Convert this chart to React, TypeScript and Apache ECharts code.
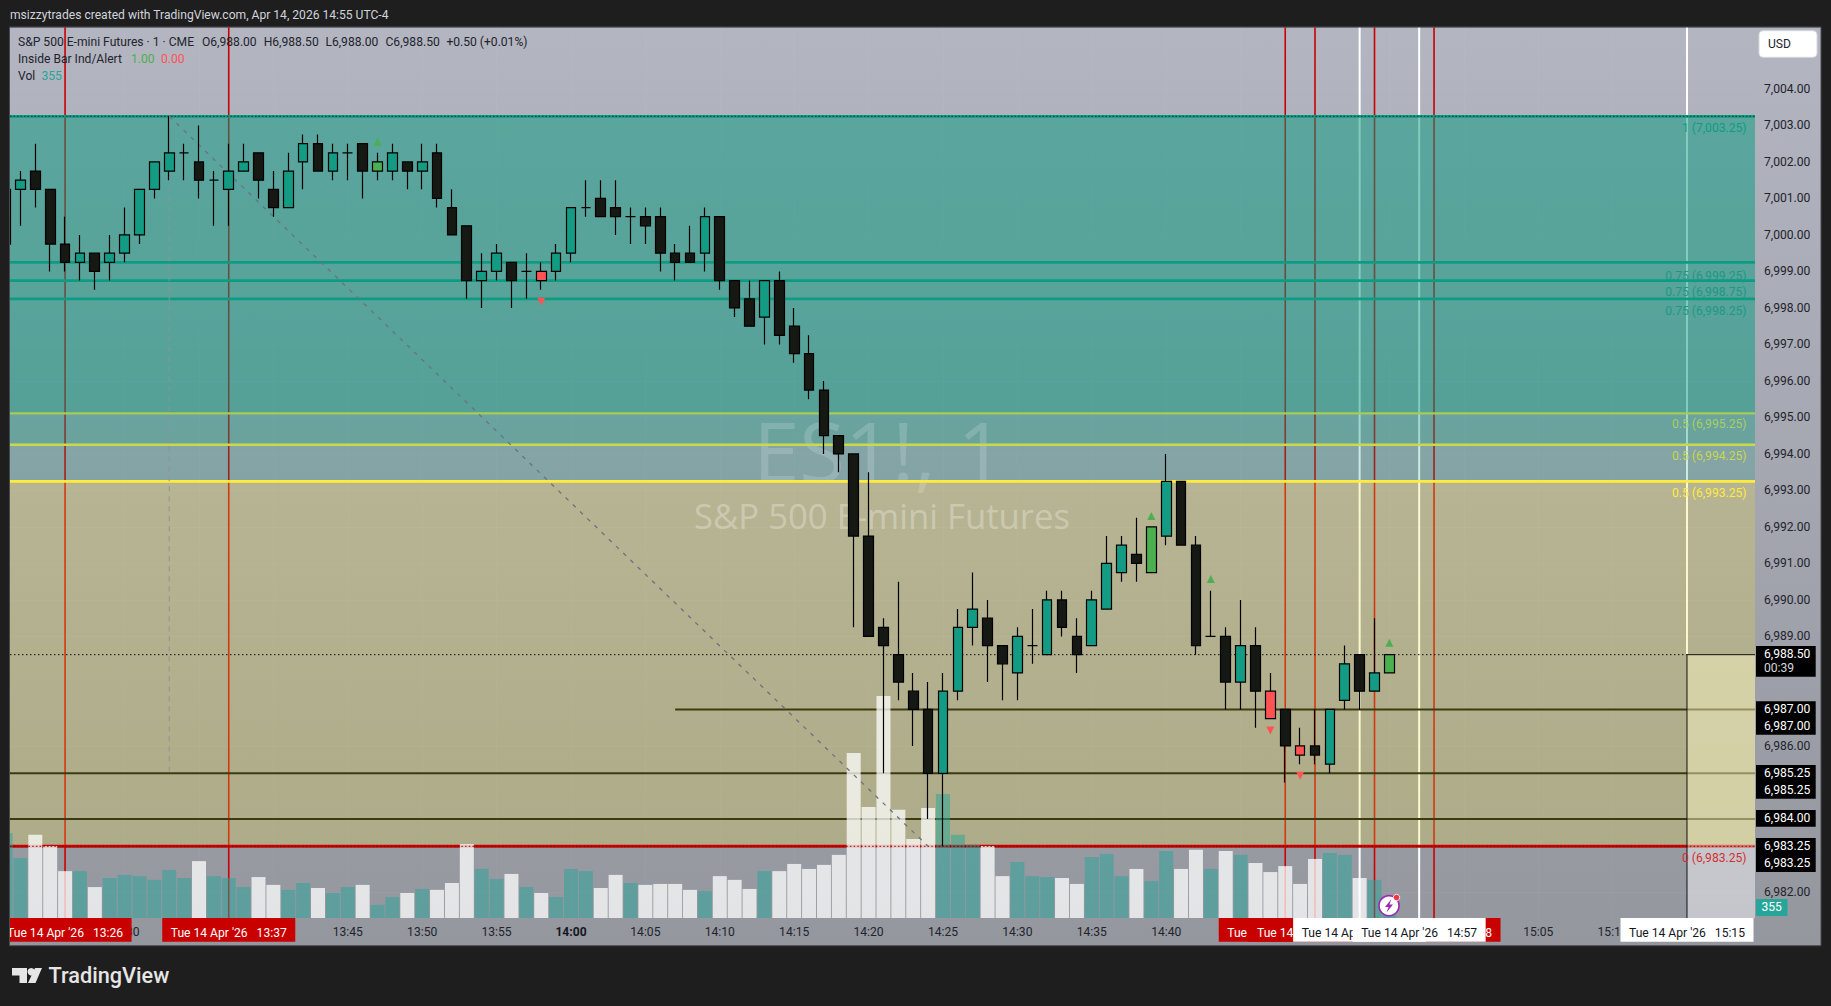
import React, { useEffect, useRef } from "react";
import * as echarts from "echarts";

const firstMinute = 802;
const opens = [6999.75,7001.25,7001.75,7001.25,6999.75,6999.25,6999.5,6999.25,6999.5,7000,7001.25,7001.75,7002.25,7002,7001.5,7001.25,7001.75,7002.25,7001.25,7000.75,7002,7002.5,7001.75,7002.25,7002.5,7001.75,7001.75,7002,7001.75,7002.25,7000.75,7000.25,6998.75,6999,6999.25,6999,6999,6999,6999.5,7000.75,7001,7000.75,7000.5,7000.5,7000.5,6999.5,6999.5,6999.5,7000.5,6998.75,6998.25,6997.75,6998.75,6997.5,6996.75,6995.75,6994.5,6994,6991.75,6989.25,6988.5,6987.5,6987,6985.25,6987.5,6989.25,6989.5,6988.75,6988,6988.75,6988.5,6990,6989,6988.75,6989.75,6990.75,6991.25,6990.75,6991.75,6993.25,6991.5,6989,6989,6987.75,6988.75,6987.5,6987,6986,6986,6985.5,6987.25,6988.5,6987.5,6988];
const closes = [7001.25,7001.5,7001.25,6999.75,6999.25,6999.5,6999,6999.5,7000,7001.25,7002,7002.25,7002.25,7001.5,7001.5,7001.75,7002,7001.5,7000.75,7001.75,7002.5,7001.75,7002.25,7002.25,7001.75,7002,7002.25,7001.75,7002,7001,7000,6998.75,6999,6999.5,6998.75,6999,6998.75,6999.5,7000.75,7000.75,7000.5,7000.5,7000.5,7000.25,6999.5,6999.25,6999.25,7000.5,6998.75,6998,6997.5,6998.75,6997.25,6996.75,6995.75,6994.5,6994,6991.75,6989,6988.75,6987.75,6987,6985.25,6987.5,6989.25,6989.75,6988.75,6988.25,6989,6988.75,6990,6989.25,6988.5,6990,6991,6991.5,6991,6992,6993.25,6991.5,6988.75,6989,6987.75,6988.75,6987.5,6986.75,6986,6985.75,6985.75,6987,6988.25,6987.5,6988,6988.5];
const lows = [6999.75,7000.25,7000.75,6999,6999,6998.75,6998.5,6998.75,6999.25,6999.75,7001,7001.5,7001.5,7001,7000.25,7000.25,7001.75,7001,7000.5,7000.75,7001.25,7001.75,7001.5,7001.5,7001,7001.5,7001.5,7001.25,7001.25,7000.75,7000,6998.25,6998,6998.75,6998,6998.25,6998.5,6998.75,6999.25,7000.5,7000.5,7000,6999.75,6999.75,6999,6998.75,6999.25,6999,6998.5,6997.75,6997.5,6997,6997,6996.5,6995.5,6994,6993.5,6989.25,6989,6985.25,6987.25,6986,6984,6983.25,6987.25,6988.75,6987.75,6987.25,6987.25,6988.25,6988.5,6989,6988,6988.75,6989.75,6990.5,6990.5,6990.75,6991.5,6991.5,6988.5,6989,6987,6987,6986.5,6986.75,6985,6985.5,6985.5,6985.25,6987,6987,6987.5,6988];
const highs = [7001.25,7001.75,7002.5,7001.25,7000.5,7000,6999.5,7000,7000.75,7001.25,7002,7003.25,7002.5,7003,7001.75,7002.5,7002.5,7002.25,7001.75,7002.25,7002.75,7002.75,7002.5,7002.5,7002.5,7002.25,7002.5,7002,7002.5,7002.5,7001.25,7000.25,6999.5,6999.75,6999.25,6999.5,6999.25,6999.75,7000.75,7001.5,7001.5,7001.5,7000.75,7000.75,7000.75,6999.75,7000.25,7000.75,7000.5,6998.75,6998.75,6998.75,6999,6998,6997.25,6996,6994.5,6994,6993.5,6989.5,6990.5,6988,6987.75,6988,6989.75,6990.75,6990,6988.75,6989.25,6989.75,6990.25,6990.25,6989.5,6990.25,6991.75,6991.75,6992.25,6992,6994,6993.25,6991.75,6990.25,6989.25,6990,6989.25,6988,6987,6986.5,6987,6987,6988.75,6988.5,6989.5,6988.5];
const volumes = [2720,1920,2660,2300,1500,1500,990,1280,1380,1340,1220,1540,1280,1820,1340,1280,990,1310,1060,900,1120,960,800,990,1060,420,670,800,930,900,1120,2370,1570,1250,1410,990,800,670,1570,1500,960,1380,1120,1060,1090,1090,900,860,1340,1220,930,1500,1500,1730,1570,1700,2020,5280,3550,7100,3460,2530,3520,3970,2660,2340,2300,1340,1790,1340,1310,1280,1090,1950,2050,1340,1570,1180,2140,1570,2180,1570,2140,2020,1760,1470,1660,1090,1890,2080,2020,1280,1220,355];
const upInsideMinutes = [827, 879, 895];
const downInsideMinutes = [838, 887, 889];
const upArrows = [[827, 7002.55], [879, 6992.3], [883, 6990.57], [895, 6988.83]];
const downArrows = [[838, 6998.17], [887, 6986.42], [889, 6985.18]];
const redLineMinutes = [806, 817, 888, 890, 894, 898];
const whiteLineMinutes = [893, 897];
const lastMinute = 915;
const timeTicks = [810, 825, 830, 835, 840, 845, 850, 855, 860, 865, 870, 875, 880, 905, 910];
const priceTicks = [7004, 7003, 7002, 7001, 7000, 6999, 6998, 6997, 6996, 6995, 6994, 6993, 6992, 6991, 6990, 6989, 6986, 6982];
const tealFibPrices = [6999.25, 6998.75, 6998.25];
const zoneBottomsTeal = [6995.11, 6994.25, 6993.25];
const levelPrices = [6985.25, 6984];
const redTags = [[806, "13:26"], [817, "13:37"], [888, "14:48"], [890, "14:50"], [894, "14:54"], [898, "14:58"]];
const whiteTags = [[893, "14:53"], [897, "14:57"], [915, "15:15"]];
const fibLabels = [
  ["1 (7,003.25)", 128, "#0d9c83"], ["0.75 (6,999.25)", 275.7, "#1a9a85"], ["0.75 (6,998.75)", 291.7, "#1a9a85"], ["0.75 (6,998.25)", 310.7, "#1a9a85"],
  ["0.5 (6,995.25)", 424, "#a9cf5e"], ["0.5 (6,994.25)", 455.7, "#c6d84c"], ["0.5 (6,993.25)", 492.7, "#ffeb3b"], ["0 (6,983.25)", 858, "#d32f2f"],
];
const priceTags = [
  [646, 676.7, [["6,988.50", 653.7], ["00:39", 667.7]]], [701.3, 734.7, [["6,987.00", 708.7], ["6,987.00", 725.7]]],
  [765, 798.7, [["6,985.25", 772.7], ["6,985.25", 789.7]]], [810, 826.7, [["6,984.00", 817.7]]], [838, 872, [["6,983.25", 846], ["6,983.25", 862.7]]],
];

const xMin = 802.3, xMax = 919.57, yMin = 6981.286, yMax = 7005.688;
const FONT = "Roboto";
const FS = 12.1;
const GREEN = "#4caf50", RED = "#ff5252", TEAL = "#149b83", DARK = "#161814", INK = "#22242c";

function txt(text: string, x: number, y: number, fill: string, size: number, z: number, align = "left", weight = "normal", family = FONT) {
  return { type: "text", x, y, z, silent: true, style: { text, fill, textAlign: align, textVerticalAlign: "middle", font: `${weight} ${size}px ${family}` } };
}
function box(x: number, y: number, width: number, height: number, fill: string, z: number, extra: any = {}) {
  return { type: "rect", z, silent: true, shape: { x, y, width, height, r: extra.r || 0 }, style: { fill, stroke: extra.stroke, lineWidth: extra.lineWidth } };
}
const xPx = (m: number) => 943 + (m - 865) * 14.88;

type Seg = [number, number, number, number, string, number, number[]?];
const lineSeries = (segs: Seg[], z: number, name: string) => ({
  type: "custom", name, z, silent: true, coordinateSystem: "cartesian2d",
  data: segs.map((s) => [s[0], s[1]]),
  renderItem: (p: any, api: any) => {
    const s = segs[p.dataIndex];
    const a = api.coord([s[0], s[1]]), b = api.coord([s[2], s[3]]);
    return { type: "line", shape: { x1: a[0], y1: a[1], x2: b[0], y2: b[1] }, style: { stroke: s[4], lineWidth: s[5], lineDash: s[6] || null, fill: null } };
  },
});
type Band = [number, number, number, number, string];
const bandSeries = (bands: Band[], z: number, name: string) => ({
  type: "custom", name, z, silent: true, coordinateSystem: "cartesian2d",
  data: bands.map((b) => [b[0], b[2]]),
  renderItem: (p: any, api: any) => {
    const b = bands[p.dataIndex];
    const a = api.coord([b[0], b[2]]), c = api.coord([b[1], b[3]]);
    return { type: "rect", shape: { x: a[0], y: a[1], width: c[0] - a[0], height: c[1] - a[1] }, style: { fill: b[4] } };
  },
});

const fmtTime = (m: number) => `${Math.floor(m / 60)}:${String(m % 60).padStart(2, "0")}`;
const fmtPrice = (p: number) => p.toLocaleString("en-US", { minimumFractionDigits: 2, maximumFractionDigits: 2 });

function buildOption() {
  const candleData = opens.map((o, i) => {
    const m = firstMinute + i;
    const item: any = { value: [m, o, closes[i], lows[i], highs[i]] };
    if (upInsideMinutes.includes(m)) item.itemStyle = { color: GREEN, color0: GREEN };
    if (downInsideMinutes.includes(m)) item.itemStyle = { color: RED, color0: RED };
    return item;
  });
  const volData = volumes.map((v, i) => ({
    value: [firstMinute + i, v],
    itemStyle: { color: closes[i] < opens[i] ? "rgba(255,255,255,0.74)" : "rgba(38,166,154,0.5)" },
  }));
  const vertical: Seg[] = [
    ...redLineMinutes.map((m): Seg => [m, yMax, m, yMin, "#cc0000", 1.6]),
    ...whiteLineMinutes.map((m): Seg => [m, yMax, m, yMin, "#ffffff", 2]),
    [lastMinute, yMax, lastMinute, 6988.5, "#ffffff", 2],
  ];
  const bands: Band[] = [
    ...zoneBottomsTeal.map((b): Band => [xMin, xMax, 7003.25, b, "rgba(8,155,127,0.21)"]),
    [xMin, xMax, 6993.25, 6983.25, "rgba(240,225,60,0.25)"],
  ];
  const hLines: Seg[] = [
    ...tealFibPrices.map((p): Seg => [xMin, p, xMax, p, "#0d9c83", 2.7]),
    [xMin, 6995.11, xMax, 6995.11, "#a6cb58", 2.4],
    [xMin, 6994.25, xMax, 6994.25, "#c9d94a", 2.4],
    [xMin, 6993.25, xMax, 6993.25, "#ffeb3b", 2.8],
    [847, 6987, xMax, 6987, "#3e3a10", 2],
    ...levelPrices.map((p): Seg => [xMin, p, xMax, p, "#3e3a10", 2]),
    [xMin, 7003.25, xMax, 7003.25, "#0d9c83", 2.8],
    [xMin, 6983.25, xMax, 6983.25, "#d00000", 3],
  ];
  const boxes: Band[] = [
    [lastMinute, xMax, 6988.5, 6983.25, "rgba(255,250,200,0.45)"],
    [lastMinute, xMax, 6983.25, yMin, "rgba(255,255,255,0.45)"],
  ];
  const overlays: Seg[] = [
    [xMin, 7003.25, xMax, 7003.25, "#123a38", 1, [1.5, 2]],
    [xMin, 6983.25, xMax, 6983.25, "#3a1a1a", 0.9, [1.5, 2.2]],
    [xMin, 6988.5, lastMinute, 6988.5, "#111111", 1, [1.5, 2.5]],
    [lastMinute, 6988.5, xMax, 6988.5, "#111111", 1],
    [lastMinute, 6988.5, lastMinute, yMin, "#111111", 1],
    [813, 7003.25, 864, 6983.25, "#6d7180", 1.3, [4, 6]],
    [813, 7003.25, 813, 6985.25, "#8f929a", 1, [5, 5]],
  ];

  const graphics: any[] = [
    box(0, 0, 1831, 1006, "#1e1e1e", -20),
    { type: "rect", z: -19, silent: true, shape: { x: 10, y: 27.3, width: 1811, height: 918.4 }, style: { fill: { type: "linear", x: 0, y: 0, x2: 0, y2: 1, colorStops: [{ offset: 0, color: "#b3b5c1" }, { offset: 1, color: "#95979f" }] } } },
    txt("msizzytrades created with TradingView.com, Apr 14, 2026 14:55 UTC-4", 10, 15, "#d1d4dc", FS, 3),
    txt("ES1!, 1", 879, 449, "rgba(255,255,255,0.17)", 83, 3, "center", "normal", "Open Sans"),
    txt("S&P 500 E-mini Futures", 882, 515, "rgba(255,255,255,0.3)", 34.7, 3, "center", "normal", "Open Sans"),
    txt("S&P 500 E-mini Futures · 1 · CME", 18, 41.7, INK, FS, 30),
    txt("O6,988.00", 202, 41.7, INK, FS, 30),
    txt("H6,988.50", 263.7, 41.7, INK, FS, 30),
    txt("L6,988.00", 325.4, 41.7, INK, FS, 30),
    txt("C6,988.50", 385.5, 41.7, INK, FS, 30),
    txt("+0.50 (+0.01%)", 446.4, 41.7, INK, FS, 30),
    txt("Inside Bar Ind/Alert", 18, 58.7, INK, FS, 30),
    txt("1.00", 131, 58.7, GREEN, FS, 30),
    txt("0.00", 161, 58.7, RED, FS, 30),
    txt("Vol", 18, 75.7, INK, FS, 30),
    txt("355", 41.5, 75.7, "#26a69a", FS, 30),
  ];
  fibLabels.forEach((f: any) => graphics.push(txt(f[0], 1746.5, f[1], f[2], FS, 30, "right")));

  let z = 40;
  const addTimeTag = (m: number, label: string, fill: string, ink: string) => {
    const c = xPx(m);
    graphics.push(box(c - 66.5, 918, 133, 23.7, fill, z++));
    graphics.push(txt(`Tue 14 Apr '26   ${label}`, c, 932.5, ink, FS, z++, "center"));
  };
  redTags.forEach((t: any) => addTimeTag(t[0], t[1], "#c80000", "#ffffff"));
  whiteTags.forEach((t: any) => addTimeTag(t[0], t[1], "#ffffff", "#131722"));

  priceTags.forEach((t: any) => {
    graphics.push(box(1756, t[0], 59.7, t[1] - t[0], "#000000", 70));
    t[2].forEach((l: any) => graphics.push(txt(l[0], 1764, l[1], l[0] === "00:39" ? "#d8d8d8" : "#ffffff", FS, 71)));
  });
  graphics.push(box(1756, 899, 31.5, 17, "#26a69a", 70));
  graphics.push(txt("355", 1771.7, 907.3, "#ffffff", FS, 71, "center"));
  graphics.push(box(1759, 30.7, 58, 26.6, "#ffffff", 70, { r: 4, stroke: "#d8d8dc", lineWidth: 1 }));
  graphics.push(txt("USD", 1768, 44.3, INK, FS, 71));

  graphics.push({ type: "circle", z: 72, silent: true, shape: { cx: 1389, cy: 905.7, r: 10 }, style: { fill: "#ffffff", stroke: "#9c27b0", lineWidth: 1.6 } });
  graphics.push({ type: "polygon", z: 73, silent: true, shape: { points: [[1391.5, 899], [1385, 907], [1388.6, 907], [1386.5, 912.5], [1393, 904.5], [1389.4, 904.5]] }, style: { fill: "#9c27b0" } });
  graphics.push({ type: "circle", z: 74, silent: true, shape: { cx: 1396.5, cy: 897.5, r: 3.2 }, style: { fill: "#f23645", stroke: "#ffffff", lineWidth: 0.8 } });

  graphics.push(box(0, 0, 9.5, 1006, "#1e1e1e", 90));
  graphics.push({ type: "rect", z: 91, silent: true, shape: { x: 9.5, y: 27, width: 1811.5, height: 918.7 }, style: { fill: "none", stroke: "#4a4a4e", lineWidth: 1 } });
  graphics.push({ type: "polygon", z: 92, silent: true, shape: { points: [[12, 968], [27, 968], [27, 983], [19.5, 983], [19.5, 975.5], [12, 975.5]] }, style: { fill: "#e6e6e6" } });
  graphics.push({ type: "circle", z: 92, silent: true, shape: { cx: 31.2, cy: 971.7, r: 3.7 }, style: { fill: "#e6e6e6" } });
  graphics.push({ type: "polygon", z: 92, silent: true, shape: { points: [[35, 968], [42, 968], [35.5, 983], [28, 983]] }, style: { fill: "#e6e6e6" } });
  graphics.push(txt("TradingView", 48.5, 975.7, "#e6e6e6", 21.7, 92, "left", "500"));

  return {
    animation: false,
    backgroundColor: "transparent",
    textStyle: { fontFamily: FONT },
    grid: { left: 10, top: 27.3, width: 1745, height: 890.7, containLabel: false },
    xAxis: {
      type: "value", min: xMin, max: xMax, scale: true,
      axisLine: { show: false },
      axisTick: { show: false, customValues: [810, 815, 820, 825, 830, 835, 840, 845, 850, 855, 860, 865, 870, 875, 880, 885, 890, 895, 900, 905, 910, 915] },
      splitLine: { show: true, lineStyle: { color: "rgba(255,255,255,0.035)", width: 1 } },
      axisLabel: {
        customValues: timeTicks, margin: 8, color: INK, fontSize: FS, fontFamily: FONT,
        formatter: (v: number) => (v === 840 ? `{b|${fmtTime(v)}}` : fmtTime(v)),
        rich: { b: { fontWeight: "bold", fontSize: FS, color: "#131722", fontFamily: FONT } },
      },
    },
    yAxis: [
      {
        type: "value", position: "right", min: yMin, max: yMax, scale: true,
        axisLine: { show: false }, axisTick: { show: false, customValues: priceTicks },
        splitLine: { show: true, lineStyle: { color: "rgba(255,255,255,0.035)", width: 1 } },
        axisLabel: { customValues: priceTicks, margin: 9, color: INK, fontSize: FS, fontFamily: FONT, formatter: (v: number) => fmtPrice(v) },
      },
      { type: "value", min: 0, max: 28502, show: false },
    ],
    graphic: { elements: graphics },
    series: [
      lineSeries(vertical, 1, "sessions"),
      bandSeries(bands, 2, "zones"),
      lineSeries(hLines, 4, "levels"),
      bandSeries(boxes, 4.5, "projection"),
      { type: "bar", name: "Vol", yAxisIndex: 1, z: 5, barWidth: 14, data: volData, silent: true, large: false },
      lineSeries(overlays, 5.5, "overlays"),
      {
        type: "candlestick", name: "ES1!", z: 6, barWidth: 10.2, data: candleData, silent: true, encode: { x: 0, y: [1, 2, 3, 4] },
        itemStyle: { color: TEAL, color0: DARK, borderColor: "#000000", borderColor0: "#000000", borderColorDoji: "#000000", borderWidth: 1.2 },
      },
      {
        type: "scatter", name: "Inside up", z: 7, symbol: "triangle", symbolSize: [8, 8], silent: true,
        itemStyle: { color: GREEN, opacity: 1 }, data: upArrows,
      },
      {
        type: "scatter", name: "Inside down", z: 7, symbol: "triangle", symbolRotate: 180, symbolSize: [8, 8], silent: true,
        itemStyle: { color: RED, opacity: 1 }, data: downArrows,
      },
    ],
  };
}

export default function App() {
  const ref = useRef<HTMLDivElement>(null);
  useEffect(() => {
    const chart = echarts.init(ref.current as HTMLDivElement, undefined, { renderer: "svg" });
    chart.setOption(buildOption() as any);
    return () => chart.dispose();
  }, []);
  return <div ref={ref} style={{ position: "fixed", left: 0, top: 0, width: 1831, height: 1006, background: "#1e1e1e" }} />;
}
